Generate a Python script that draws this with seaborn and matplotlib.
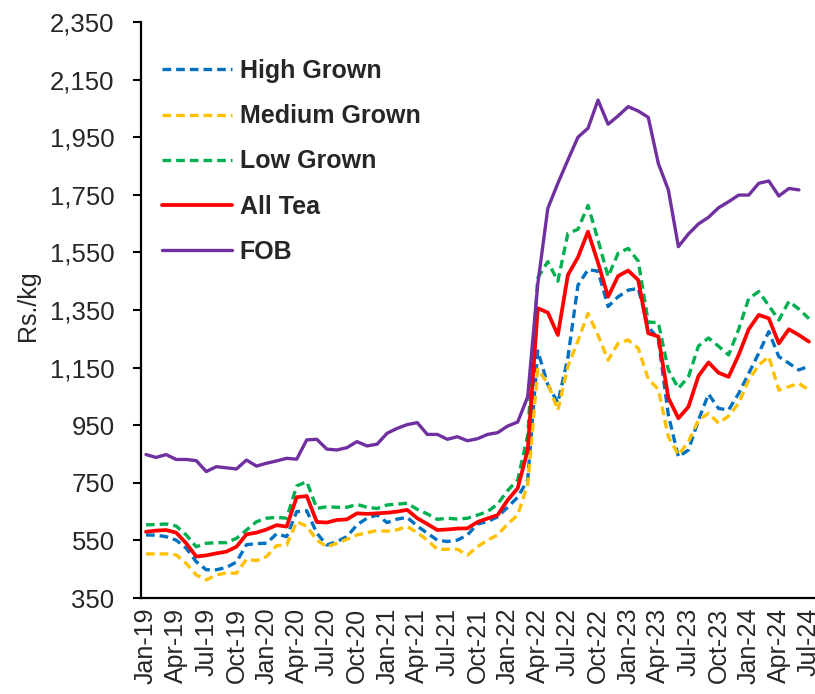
import pandas as pd
import matplotlib
matplotlib.use('Agg')
import matplotlib.pyplot as plt
import seaborn as sns
from matplotlib.ticker import FuncFormatter

# monthly tea auction prices, Jan-19 .. Jul-24 (Rs./kg)
months = pd.date_range('2019-01-01', '2024-07-01', freq='MS')
month_labels = [d.strftime('%b-%y') for d in months]
tick_labels = month_labels[::3]

high_grown = [569, 568, 563, 551, 523, 476, 448, 448, 456, 475, 535, 539,
              540, 573, 563, 650, 653, 575, 534, 546, 563, 604, 627, 638,
              612, 624, 630, 600, 575, 551, 546, 551, 569, 607, 615, 632,
              665, 700, 760, 1208, 1090, 1028, 1185, 1436, 1490, 1485, 1362, 1396,
              1419, 1425, 1292, 1250, 985, 840, 864, 968, 1058, 1008, 1003, 1060,
              1130, 1200, 1275, 1188, 1165, 1142, 1155]
medium_grown = [503, 503, 503, 500, 470, 430, 413, 430, 437, 436, 484, 480,
                494, 532, 534, 615, 599, 551, 528, 540, 554, 569, 577, 584,
                582, 587, 598, 577, 551, 519, 519, 519, 499, 528, 551, 569,
                607, 638, 745, 1145, 1095, 1002, 1155, 1243, 1338, 1262, 1176, 1234,
                1246, 1217, 1110, 1075, 910, 847, 893, 968, 991, 957, 982, 1026,
                1107, 1159, 1188, 1072, 1084, 1095, 1072]
low_grown = [604, 605, 607, 600, 569, 528, 540, 542, 542, 557, 586, 615,
             627, 630, 627, 739, 754, 661, 667, 665, 665, 675, 665, 661,
             673, 676, 679, 658, 642, 623, 627, 624, 627, 638, 650, 676,
             723, 760, 915, 1462, 1518, 1450, 1616, 1630, 1713, 1593, 1466, 1547,
             1564, 1520, 1308, 1306, 1142, 1078, 1118, 1225, 1253, 1224, 1194, 1283,
             1390, 1414, 1365, 1315, 1380, 1353, 1320]
all_tea = [580, 584, 586, 577, 540, 494, 498, 505, 511, 528, 571, 577,
           588, 603, 598, 700, 704, 614, 612, 621, 623, 644, 642, 644,
           646, 650, 656, 627, 607, 586, 588, 591, 592, 614, 626, 638,
           690, 731, 864, 1356, 1341, 1263, 1472, 1533, 1622, 1514, 1396, 1468,
           1487, 1454, 1269, 1258, 1045, 974, 1014, 1121, 1168, 1132, 1118, 1194,
           1283, 1333, 1321, 1234, 1283, 1263, 1240]
# FOB ends one month earlier (Jun-24)
fob = [848, 838, 848, 831, 831, 827, 789, 806, 802, 798, 829, 808,
       818, 826, 835, 832, 899, 901, 867, 864, 872, 893, 878, 884,
       922, 939, 952, 959, 918, 918, 901, 910, 896, 903, 918, 924,
       947, 961, 1049, 1440, 1703, 1790, 1871, 1950, 1981, 2079, 1995, 2024,
       2056, 2041, 2019, 1859, 1767, 1570, 1614, 1649, 1672, 1705, 1726, 1749,
       1749, 1790, 1798, 1746, 1772, 1767]

sns.set_style('white')
plt.rcParams['font.family'] = ['Liberation Sans', 'DejaVu Sans']

fig = plt.figure(figsize=(8.15, 6.94), dpi=100)
ax = fig.add_axes([141 / 815, 1 - 598 / 694, 673 / 815, 576 / 694])

dash = (0, (2.6, 1.5))
series = [
    ('High Grown', high_grown, '#0070C0', dash, 2.4),
    ('Medium Grown', medium_grown, '#FFC000', dash, 2.4),
    ('Low Grown', low_grown, '#00B050', dash, 2.4),
    ('All Tea', all_tea, '#FF0000', '-', 2.7),
    ('FOB', fob, '#7030A0', '-', 2.4),
]
for name, vals, col, ls, lw in series:
    sns.lineplot(x=list(range(len(vals))), y=vals, ax=ax, color=col,
                 linestyle=ls, linewidth=lw, label=name)

ax.set_xlim(-0.5, len(months) - 0.5)
ax.set_ylim(350, 2350)
ax.set_yticks(range(350, 2351, 200))
ax.yaxis.set_major_formatter(FuncFormatter(lambda v, p: f'{int(v):,}'))

# labels on categories, tick marks on category boundaries
ax.set_xticks(list(range(0, len(months), 3)))
ax.set_xticklabels(tick_labels, rotation=90)
ax.set_xticks([i - 0.5 for i in range(0, len(months), 3)], minor=True)
ax.tick_params(axis='x', which='major', length=0, pad=7, labelsize=18)
ax.tick_params(axis='x', which='minor', length=6, width=1.5, color='black', direction='out')
ax.tick_params(axis='y', length=6, width=1.5, color='black', direction='out', pad=13, labelsize=18.5)
ax.tick_params(left=True, bottom=True)

for s in ['top', 'right']:
    ax.spines[s].set_visible(False)
for s in ['left', 'bottom']:
    ax.spines[s].set_color('black')
    ax.spines[s].set_linewidth(1.6)

ax.set_xlabel('')
ax.set_ylabel('Rs./kg', fontsize=18)
ax.yaxis.set_label_coords(-0.15, 0.507)

ax.legend(loc='upper left', bbox_to_anchor=(162 / 815, 1 - 59 / 694),
          bbox_transform=fig.transFigure, frameon=False,
          prop={'weight': 'bold', 'size': 18}, handlelength=2.8,
          handletextpad=0.3, labelspacing=0.85, borderpad=0, borderaxespad=0)

fig.savefig('out.png', dpi=100)
